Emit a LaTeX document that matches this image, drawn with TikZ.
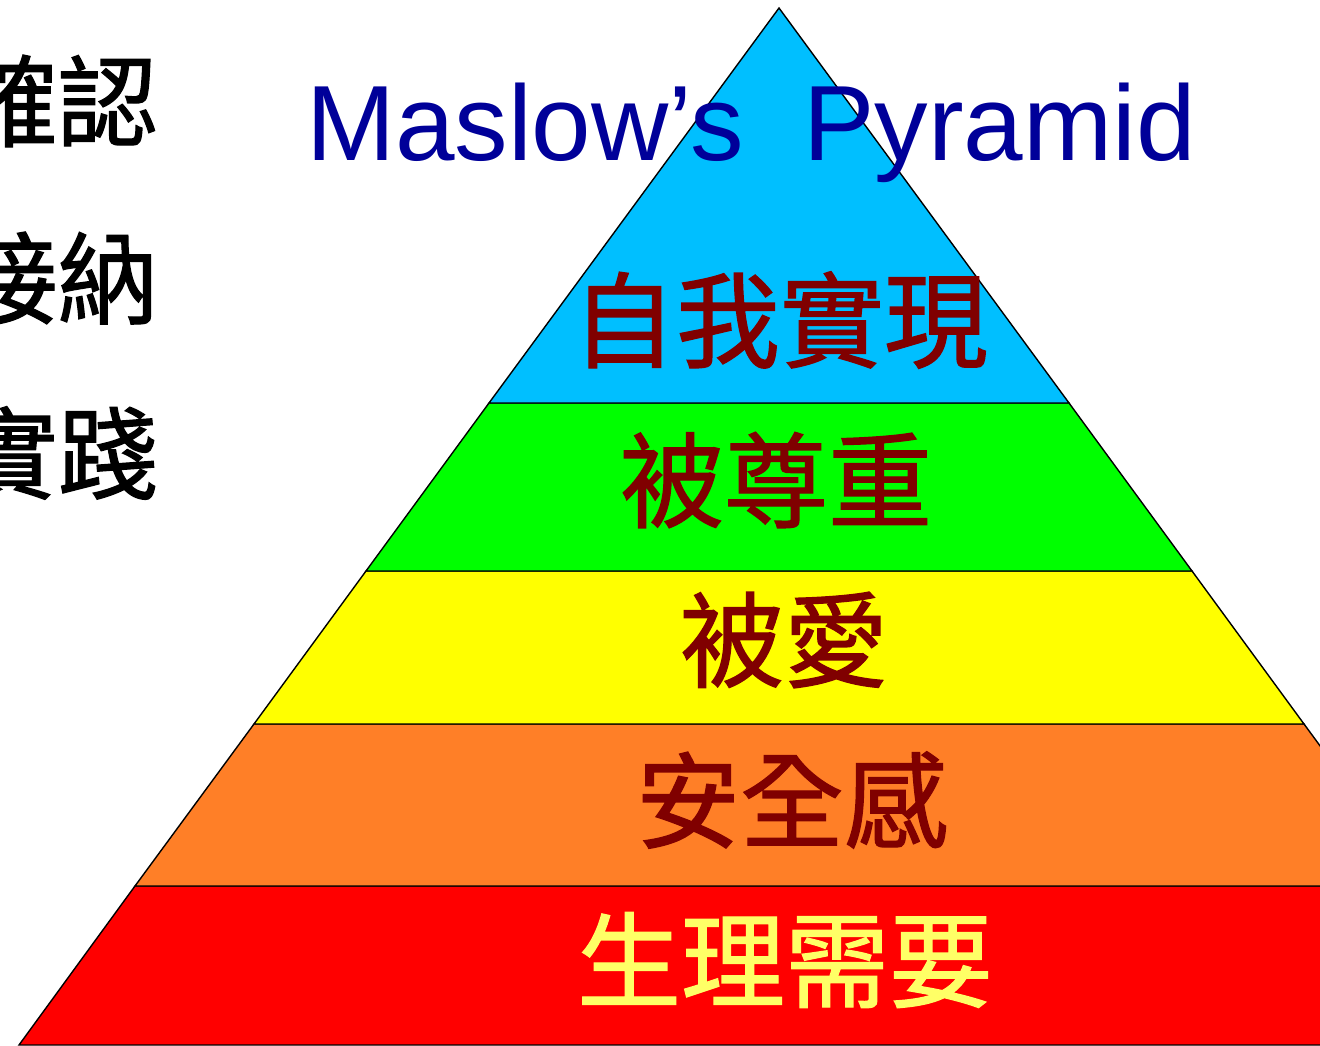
\documentclass[tikz,border=0pt]{standalone}
\usepackage{fontspec}
\setmainfont{Liberation Sans}
\newfontfamily\cjk[FakeBold=1.2]{Noto Sans CJK TC}
\usepackage{tikz}
\usetikzlibrary{positioning}

\definecolor{skyblue}{RGB}{0,191,255}
\definecolor{lgreen}{RGB}{0,255,0}
\definecolor{lyellow}{RGB}{255,255,0}
\definecolor{lorange}{RGB}{255,127,39}
\definecolor{lred}{RGB}{255,0,0}
\definecolor{darkred}{RGB}{128,0,0}
\definecolor{navy}{RGB}{0,0,153}
\definecolor{paleyellow}{RGB}{255,255,102}

\begin{document}
\begin{tikzpicture}
  [
   x=1pt,y=-1pt,
   lay/.style={draw=black,line width=1.4pt,line join=miter},
   lbl/.style={inner sep=0pt,font=\cjk\fontsize{104}{110}\selectfont,text=darkred},
   side/.style={inner sep=0pt,anchor=east,font=\cjk\fontsize{100}{106}\selectfont,text=black}
  ]
   \useasboundingbox (0,0) rectangle (1320,1045);

   % pyramid layers
   \fill[lred,lay]    (135,886) -- (1423,886) -- (1539,1045) -- (19,1045) -- cycle;
   \fill[lorange,lay] (254,724) -- (1304,724) -- (1423,886) -- (135,886) -- cycle;
   \fill[lyellow,lay] (366,571) -- (1192,571) -- (1304,724) -- (254,724) -- cycle;
   \fill[lgreen,lay]  (489,403) -- (1069,403) -- (1192,571) -- (366,571) -- cycle;
   \fill[skyblue,lay] (779,8) -- (1069,403) -- (489,403) -- cycle;

   % labels
   \node[lbl] (top)   at (780,320) {自我實現};
   \node[lbl] (est)   at (776,480) {被尊重};
   \node[lbl] (love)  at (784,640) {被愛};
   \node[lbl] (safe)  at (792,800) {安全感};
   \node[lbl,text=paleyellow] (phys) at (785,960) {生理需要};

   \node[inner sep=0pt,anchor=base,text=navy,font=\fontsize{107}{112}\selectfont]
        (title) at (751,160) {Maslow’s\ \ Pyramid};

   % left column
   \node[side] (s1) at (158,101) {確認};
   \node[side] (s2) at (158,278) {接納};
   \node[side] (s3) at (158,453) {實踐};

\end{tikzpicture}
\end{document}
